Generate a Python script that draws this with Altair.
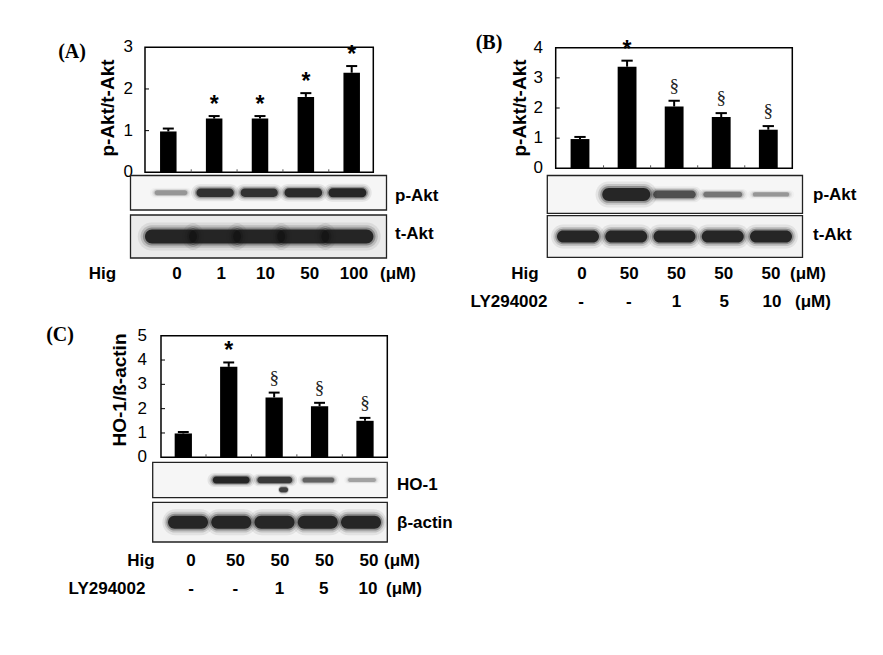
import altair as alt
import pandas as pd

OX, OY = 8, 8  # page margin (reference coords are page coords)

# ---------------- data ----------------
a_hig = ["0", "1", "10", "50", "100"]
a_val = [0.98, 1.29, 1.29, 1.81, 2.39]
a_err = [0.07, 0.06, 0.06, 0.09, 0.16]
a_sig = ["", "*", "*", "*", "*"]
a_pakt = [0.35, 0.92, 0.9, 0.96, 1.0]
a_takt = [1.0, 1.0, 1.0, 1.0, 1.0]

b_hig = ["0", "50", "50", "50", "50"]
b_ly = ["-", "-", "1", "5", "10"]
b_val = [0.97, 3.37, 2.05, 1.70, 1.28]
b_err = [0.07, 0.20, 0.19, 0.13, 0.12]
b_sig = ["", "*", "§", "§", "§"]
b_pakt = [0.0, 1.0, 0.7, 0.5, 0.35]
b_takt = [1.0, 1.0, 1.0, 1.0, 1.0]

c_hig = ["0", "50", "50", "50", "50"]
c_ly = ["-", "-", "1", "5", "10"]
c_val = [0.98, 3.72, 2.46, 2.10, 1.50]
c_err = [0.06, 0.18, 0.20, 0.14, 0.12]
c_sig = ["", "*", "§", "§", "§"]
c_ho1 = [0.0, 1.0, 0.85, 0.6, 0.3]
c_ho1_spot_lane = [2.2]
c_ho1_spot_int = [0.8]
c_actin = [1.0, 1.0, 1.0, 1.0, 1.0]

SANS = "Liberation Sans"
SERIF = "Liberation Serif"


def S(dom, rng):
    return alt.Scale(domain=dom, range=rng, nice=False, zero=False)


def one():
    return pd.DataFrame({"k": [0]})


def label(txt, x, y, size=17, weight="bold", font=SANS, align="center", angle=0):
    kw = dict(font=font, fontSize=size, fontWeight=weight, align=align, baseline="middle", color="black")
    if angle:
        kw["angle"] = angle
    return alt.Chart(one()).mark_text(**kw).encode(
        x=alt.value(x - OX), y=alt.value(y - OY), text=alt.value(txt))


def bar_panel(p):
    L = []
    xs = S([0, 4], [p["c0"] - OX, p["c4"] - OX])
    ys = S([0, p["ymax"]], [p["bottom"] - OY, p["top"] - OY])
    n = len(p["val"])
    df = pd.DataFrame({"i": list(range(n)), "v": p["val"], "e": p["err"], "sig": p["sig"]})
    df["lo"] = df.i - p["hb"]
    df["hi"] = df.i + p["hb"]
    df["top"] = df.v + df.e
    df["cl"] = df.i - p["cap"]
    df["cr"] = df.i + p["cap"]
    df["z"] = 0.0
    X = lambda f: alt.X(f, scale=xs, axis=None)
    Y = lambda f: alt.Y(f, scale=ys, axis=None)
    # bars
    L.append(alt.Chart(df).mark_rect(color="black").encode(x=X("lo:Q"), x2="hi:Q", y=Y("v:Q"), y2="z:Q"))
    # error bars
    L.append(alt.Chart(df).mark_rule(color="black", strokeWidth=2).encode(x=X("i:Q"), y=Y("v:Q"), y2="top:Q"))
    L.append(alt.Chart(df).mark_rule(color="black", strokeWidth=2).encode(x=X("cl:Q"), x2="cr:Q", y=Y("top:Q")))
    # significance marks
    L.append(alt.Chart(df[df.sig == "*"]).mark_text(font=SANS, fontWeight="bold", fontSize=23,
                                                     baseline="alphabetic", dy=-4, color="black").encode(
        x=X("i:Q"), y=Y("top:Q"), text="sig:N"))
    if (df.sig == "§").any():
        L.append(alt.Chart(df[df.sig == "§"]).mark_text(font=SERIF, fontSize=19,
                                                         baseline="alphabetic", dy=-9, color="#222").encode(
            x=X("i:Q"), y=Y("top:Q"), text="sig:N"))
    # frame
    L.append(alt.Chart(one()).mark_rect(fill="white", fillOpacity=0, stroke="black", strokeWidth=1.5).encode(
        x=alt.value(p["left"] - OX), x2=alt.value(p["right"] - OX),
        y=alt.value(p["top"] - OY), y2=alt.value(p["bottom"] - OY)))
    # y tick labels and inward ticks
    tdf = pd.DataFrame({"t": list(range(p["ymax"] + 1))})
    L.append(alt.Chart(tdf).mark_text(font=SANS, fontSize=17, align="right", baseline="middle", color="black").encode(
        x=alt.value(p["tickx"] - OX), y=Y("t:Q"), text="t:Q"))
    L.append(alt.Chart(tdf[(tdf.t > 0) & (tdf.t < p["ymax"])]).mark_rule(color="black", strokeWidth=1).encode(
        x=alt.value(p["left"] - OX), x2=alt.value(p["left"] - OX + 4), y=Y("t:Q")))
    # x boundary ticks
    bdf = pd.DataFrame({"b": [0.5, 1.5, 2.5, 3.5]})
    L.append(alt.Chart(bdf).mark_rule(color="#555", strokeWidth=1).encode(
        x=X("b:Q"), y=alt.value(p["bottom"] - OY), y2=alt.value(p["bottom"] - OY - 3)))
    # titles
    L.append(label(p["title"], p["titlex"], p["titley"], size=19, angle=270))
    L.append(label(p["letter"], p["letterx"], p["lettery"], size=20, font=SERIF))
    return L


HALO = [(1.28, 2.0, 0.08), (1.17, 1.6, 0.15), (1.08, 1.28, 0.3), (1.0, 1.0, 0.85)]


def blot_row(box, c0, c4, intens, hwf, hhf, bg, lanes=None, yoff=0.0):
    """box = (x0, x1, y0, y1) in page coords"""
    L = []
    x0, x1, y0, y1 = box
    if bg is not None:
        L.append(alt.Chart(one()).mark_rect(fill=bg, stroke="#222", strokeWidth=1.3).encode(
            x=alt.value(x0 - OX), x2=alt.value(x1 - OX), y=alt.value(y0 - OY), y2=alt.value(y1 - OY)))
    step = (c4 - c0) / 4.0
    half = (y1 - y0) / 2.0
    xs = S([0, 4], [c0 - OX, c4 - OX])
    ys = S([-1, 1], [y1 - OY, y0 - OY])
    if lanes is None:
        lanes = list(range(len(intens)))
    base = pd.DataFrame({"i": lanes, "I": intens})
    base = base[base.I > 0]
    for wf, hf, of in HALO:
        d = base.copy()
        hw = d.I.apply(hwf) * wf / step
        hh = d.I.apply(hhf) * hf / half
        d["x1"] = d.i - hw
        d["x2"] = d.i + hw
        d["y1"] = yoff - hh
        d["y2"] = yoff + hh
        d["op"] = (of * d.I.clip(upper=1.0)).round(3)
        L.append(alt.Chart(d).mark_rect(color="#141414", cornerRadius=40).encode(
            x=alt.X("x1:Q", scale=xs, axis=None), x2="x2:Q",
            y=alt.Y("y1:Q", scale=ys, axis=None), y2="y2:Q",
            opacity=alt.Opacity("op:Q", scale=None)))
    return L


def text_row(vals, c0, c4, y):
    d = pd.DataFrame({"i": list(range(len(vals))), "t": vals})
    return alt.Chart(d).mark_text(font=SANS, fontSize=17, fontWeight="bold", baseline="middle", color="black").encode(
        x=alt.X("i:Q", scale=S([0, 4], [c0 - OX, c4 - OX]), axis=None), y=alt.value(y - OY), text="t:N")


layers = []

# ---------------- Panel A ----------------
layers += bar_panel(dict(val=a_val, err=a_err, sig=a_sig, ymax=3, left=145, right=373.3, top=47.3, bottom=172.3,
                         c0=168.3, c4=351.7, hb=0.18, cap=0.12, tickx=133, title="p-Akt/t-Akt",
                         titlex=107.5, titley=108, letter="(A)", letterx=72, lettery=52))
layers += blot_row((130.5, 386.5, 175.5, 210), 171, 347.4, a_pakt,
                   lambda I: 15 + 4 * I, lambda I: 1.5 + 3 * I, "#f6f6f6")
layers += blot_row((130.5, 386.5, 215, 258), 171, 347.4, a_takt,
                   lambda I: 26 * I, lambda I: 7 * I, "#ebebeb")
layers.append(label("p-Akt", 395, 196, align="left"))
layers.append(label("t-Akt", 395, 234, align="left"))
layers.append(label("Hig", 102.5, 274))
layers.append(text_row(a_hig, 177, 354, 274))
layers.append(label("(μM)", 398, 274))

# ---------------- Panel B ----------------
layers += bar_panel(dict(val=b_val, err=b_err, sig=b_sig, ymax=4, left=555.7, right=792.3, top=47.7, bottom=168.3,
                         c0=580, c4=768.3, hb=0.2, cap=0.12, tickx=543, title="p-Akt/t-Akt",
                         titlex=520, titley=108, letter="(B)", letterx=489, lettery=43))
layers += blot_row((547.3, 802.5, 175.5, 213.3), 578, 771, b_pakt,
                   lambda I: 15 + 9 * I, lambda I: 1.5 + 5 * I * I, "#f6f6f6")
layers += blot_row((547.3, 802.5, 215.7, 257.3), 578, 771, b_takt,
                   lambda I: 21 * I, lambda I: 6 * I, "#f3f3f3")
layers.append(label("p-Akt", 813, 195, align="left"))
layers.append(label("t-Akt", 813, 235, align="left"))
layers.append(label("Hig", 525, 274))
layers.append(text_row(b_hig, 582, 771, 274))
layers.append(label("(μM)", 808, 274))
layers.append(label("LY294002", 509, 302))
layers.append(text_row(b_ly, 581, 772, 302))
layers.append(label("(μM)", 813, 302))

# ---------------- Panel C ----------------
layers += bar_panel(dict(val=c_val, err=c_err, sig=c_sig, ymax=5, left=161, right=387.3, top=335.7, bottom=457.3,
                         c0=183.3, c4=365, hb=0.19, cap=0.12, tickx=147, title="HO-1/ß-actin",
                         titlex=120, titley=390, letter="(C)", letterx=60, lettery=335))
layers += blot_row((152.7, 387.3, 462.3, 497.7), 187.6, 362, c_ho1,
                   lambda I: 12 + 6.5 * I, lambda I: 1.2 + 2.3 * I, "#f6f6f6")
layers += blot_row((152.7, 387.3, 462.3, 497.7), 187.6, 362, c_ho1_spot_int,
                   lambda I: 4.5, lambda I: 2.5, None, lanes=c_ho1_spot_lane, yoff=-0.55)
layers += blot_row((152.7, 387.3, 502.3, 542), 188, 361, c_actin,
                   lambda I: 20 * I, lambda I: 6.5 * I, "#f3f3f3")
layers.append(label("HO-1", 397, 485, align="left"))
layers.append(label("β-actin", 397, 523, align="left"))
layers.append(label("Hig", 141, 561))
layers.append(text_row(c_hig, 191, 369, 561))
layers.append(label("(μM)", 402, 561))
layers.append(label("LY294002", 107, 589))
layers.append(text_row(c_ly, 191, 368, 589))
layers.append(label("(μM)", 404, 589))

chart = alt.layer(*layers).resolve_scale(x="independent", y="independent").properties(
    width=867, height=639, autosize=alt.AutoSizeParams(type="none"), padding=0, background="white"
).configure_view(stroke=None)

chart.save("out.html", embed_options={"renderer": "svg", "actions": False})
